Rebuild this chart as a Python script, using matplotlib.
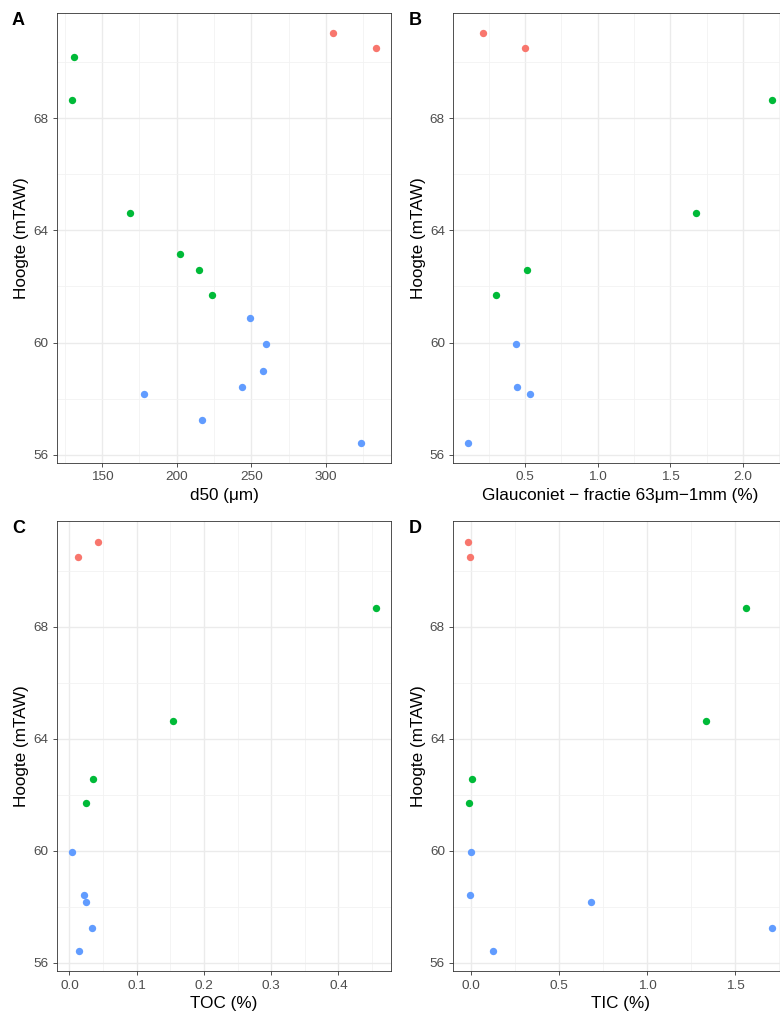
import numpy as np
import matplotlib
matplotlib.use("Agg")
import matplotlib.pyplot as plt
from matplotlib.ticker import MultipleLocator, FormatStrFormatter

nan = np.nan

# one entry per sample, ordered from top to bottom of the profile
eenheid = ["boven"] * 2 + ["midden"] * 6 + ["onder"] * 7
hoogte = [71.03, 70.50, 70.18, 68.65, 64.62, 63.16, 62.58, 61.71,
          60.87, 59.94, 58.98, 58.41, 58.17, 57.23, 56.43]
d50 = [305.1, 333.5, 131.3, 130.0, 168.7, 202.0, 215.3, 224.0,
       249.3, 259.8, 258.2, 243.6, 178.0, 217.1, 323.3]
glauconiet = [0.212, 0.50, nan, 2.20, 1.678, nan, 0.511, 0.30,
              nan, 0.44, nan, 0.449, 0.532, nan, 0.112]
toc = [0.0428, 0.0124, nan, 0.4557, 0.154, nan, 0.035, 0.0251,
       nan, 0.004, nan, 0.0222, 0.025, 0.033, 0.0143]
tic = [-0.013, -0.006, nan, 1.56, 1.333, nan, 0.007, -0.01,
       nan, 0.004, nan, -0.004, 0.683, 1.709, 0.124]

panels = [
    ("A", d50, "d50 (\u03bcm)", 50, 25, "%d"),
    ("B", glauconiet, "Glauconiet \u2212 fractie 63\u03bcm\u22121mm (%)", 0.5, 0.25, "%.1f"),
    ("C", toc, "TOC (%)", 0.1, 0.05, "%.1f"),
    ("D", tic, "TIC (%)", 0.5, 0.25, "%.1f"),
]

kleuren = {"boven": "#F8766D", "midden": "#00BA38", "onder": "#619CFF"}

plt.rcParams["font.family"] = ["Liberation Sans", "DejaVu Sans"]

W, H = 780, 1016
fig = plt.figure(figsize=(W / 100, H / 100), dpi=100)

# panel boxes in pixels: left, top, width, height
boxes = [(57, 13, 334, 450), (453.3, 13, 334, 450),
         (57, 521.3, 334, 450), (453.3, 521.3, 334, 450)]

def limits(v):
    v = np.asarray(v, dtype=float)
    v = v[~np.isnan(v)]
    lo, hi = v.min(), v.max()
    pad = 0.05 * (hi - lo)
    return lo - pad, hi + pad

y = np.array(hoogte)
for (letter, xs, xlabel, major, minor, fmt), (l, t, w, h) in zip(panels, boxes):
    ax = fig.add_axes([l / W, 1 - (t + h) / H, w / W, h / H])
    xs = np.array(xs, dtype=float)
    for g in ["boven", "midden", "onder"]:
        m = np.array([e == g for e in eenheid]) & ~np.isnan(xs)
        ax.scatter(xs[m], y[m], s=28, color=kleuren[g], linewidths=0, zorder=3)

    ax.set_xlim(*limits(xs))
    ax.set_ylim(*limits(y))
    ax.xaxis.set_major_locator(MultipleLocator(major))
    ax.xaxis.set_minor_locator(MultipleLocator(minor))
    ax.xaxis.set_major_formatter(FormatStrFormatter(fmt))
    ax.yaxis.set_major_locator(MultipleLocator(4))
    ax.yaxis.set_minor_locator(MultipleLocator(2))

    ax.grid(which="major", color="#EBEBEB", linewidth=1.0)
    ax.grid(which="minor", color="#F2F2F2", linewidth=0.6)
    ax.set_axisbelow(True)
    for sp in ax.spines.values():
        sp.set_color("#333333")
        sp.set_linewidth(0.6)
    ax.tick_params(which="major", length=3, width=0.6, color="#333333",
                   labelcolor="#4D4D4D", labelsize=9.7, pad=3)
    ax.tick_params(which="minor", length=0)

    ax.set_xlabel(xlabel, fontsize=12.3, color="black", labelpad=3.5)
    ax.set_ylabel("Hoogte (mTAW)", fontsize=12.3, color="black", labelpad=3)

    fig.text((l - 45) / W, 1 - (t - 1) / H, letter, fontsize=13,
             fontweight="bold", ha="left", va="top")

fig.savefig("out.png", dpi=100)
